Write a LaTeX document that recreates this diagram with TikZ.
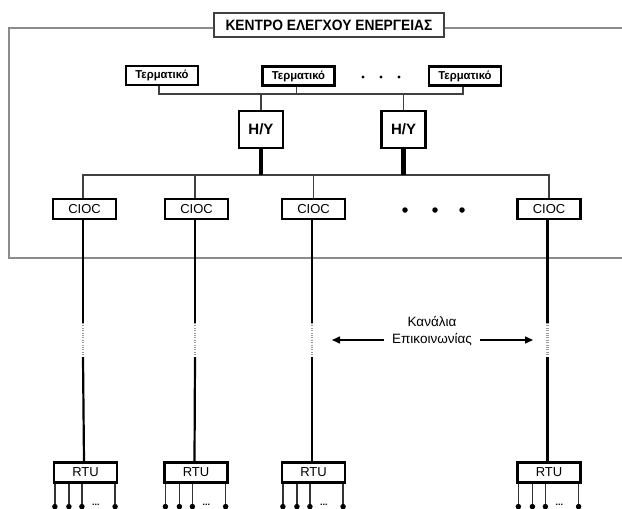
\documentclass[tikz,border=0pt]{standalone}
\usepackage{fontspec}
\setmainfont{Liberation Sans}
\usetikzlibrary{arrows.meta}
\begin{document}
\begin{tikzpicture}[x=1pt,y=-1pt,
  frame/.style={draw=black!45, line width=1.5pt},
  wire/.style={draw=black!75, line width=1.7pt},
  link/.style={draw=black, line width=2.2pt},
  thick link/.style={draw=black, line width=4.5pt},
  gap/.style={draw=black!40, line width=2.2pt, dash pattern=on 0.8pt off 1.6pt},
  unitbox/.style={draw=black, line width=2.2pt, fill=white, inner sep=0pt},
  termbox/.style={unitbox, minimum width=72pt, minimum height=19pt,
    font=\fontsize{11.5}{12}\selectfont\bfseries},
  pcbox/.style={unitbox, minimum width=44pt, minimum height=37pt,
    font=\fontsize{15}{17}\selectfont\bfseries},
  iobox/.style={unitbox, minimum width=63pt, minimum height=20pt,
    font=\fontsize{13}{15}\selectfont},
  bigdot/.style={circle, fill=black, inner sep=0pt, minimum size=5.5pt},
  smalldot/.style={circle, fill=black, inner sep=0pt, minimum size=3.2pt},
  pin/.style={circle, fill=black, inner sep=0pt, minimum size=5.5pt},
  lead/.style={draw=black!80, line width=1.6pt},
  flow/.style={draw=black, line width=1.5pt, -{Triangle[length=8pt,width=7pt]}}
]
\useasboundingbox[fill=white] (0,0) rectangle (622,509);

% control-centre enclosure
\node[draw=black!75, line width=1.1pt, fill=white, minimum width=230pt, minimum height=24pt,
  inner sep=0pt, font=\fontsize{15}{16}\selectfont\bfseries] (title) at (329,25)
  {\scalebox{0.92}[1]{ΚΕΝΤΡΟ ΕΛΕΓΧΟΥ ΕΝΕΡΓΕΙΑΣ}};
\coordinate (ftl) at (9,28);
\coordinate (fbl) at (9,258);
\coordinate (fbr) at (622,258);
\coordinate (ftr) at (622,28);
\draw[frame] (title.west |- ftl) -- (ftl) -- (fbl) -- (fbr);
\draw[frame] (title.east |- ftr) -- (ftr);

% terminals
\node[termbox] (t1) at (162,75.5) {\scalebox{0.98}[1]{Τερματικό}};
\node[termbox] (t2) at (298.5,76) {\scalebox{0.98}[1]{Τερματικό}};
\node[termbox] (t3) at (465,76) {\scalebox{0.98}[1]{Τερματικό}};
\foreach \x in {363,381,399} \node[smalldot] at (\x,77) {};

% computers
\node[pcbox] (h1) at (261,129.5) {H/Y};
\node[pcbox] (h2) at (403.5,129.5) {H/Y};

% terminal bus
\coordinate (tb1) at (159,94);
\coordinate (tb3) at (463,94);
\draw[wire] ([xshift=-3pt]t1.south) |- (tb3) -- ([xshift=-2pt]t3.south);
\draw[wire] ([xshift=-2pt]t2.south) -- ([xshift=-2pt]t2.south |- tb1);
\draw[wire] (h1.north) -- (h1.north |- tb1);
\draw[wire] (h2.north) -- (h2.north |- tb1);

% communication controllers
\node[iobox] (c1) at (84.5,209) {CIOC};
\node[iobox] (c2) at (196.5,209) {CIOC};
\node[iobox] (c3) at (313.5,209) {CIOC};
\node[iobox] (c4) at (549,209) {CIOC};
\foreach \x in {405,435,462} \node[bigdot] at (\x,210) {};

% controller bus
\coordinate (cb) at (0,175);
\draw[wire] ([xshift=-1.5pt]c1.north) |- (c4.north |- cb) -- (c4.north);
\draw[wire] ([xshift=-1.5pt]c2.north) -- ([xshift=-1.5pt]c2.north |- cb);
\draw[wire] (c3.north) -- (c3.north |- cb);
\draw[thick link] (h1.south) -- (h1.south |- cb);
\draw[thick link] (h2.south) -- (h2.south |- cb);

% remote terminal units
\node[iobox] (r1) at (85.5,472.5) {RTU};
\node[iobox] (r2) at (196,472.5) {RTU};
\node[iobox] (r3) at (313.5,472.5) {RTU};
\node[iobox] (r4) at (549,472.5) {RTU};

% communication channels with a break
\coordinate (gt) at (0,323);
\coordinate (gb) at (0,357);
\foreach \c/\r in {c1/r1,c2/r2,c3/r3,c4/r4}{
  \draw[link] ([xshift=-1.5pt]\c.south) -- ([xshift=-1.5pt]\c.south |- gt);
  \draw[gap] ([xshift=-1.5pt]\c.south |- gt) -- ([xshift=-1.5pt]\c.south |- gb);
  \draw[link] ([xshift=-1.5pt]\c.south |- gb) -- ([xshift=-1.5pt]\r.north);
}

% channel label
\node[font=\fontsize{13.5}{17}\selectfont, align=center] (chan) at (432,331.5)
  {Κανάλια\\Επικοινωνίας};
\coordinate (al) at (332,340);
\coordinate (ar) at (533,340);
\draw[flow] ([xshift=-5pt]chan.west |- al) -- (al);
\draw[flow] ([xshift=5pt]chan.east |- ar) -- (ar);

% field connections of each RTU
\foreach \r in {r1,r2,r3,r4}{
  \foreach \dx in {2,16,29}{
    \draw[lead] ([xshift=\dx pt]\r.south west) -- ++(0,23) node[pin] {};
  }
  \draw[lead] ([xshift=-3pt]\r.south east) -- ++(0,23) node[pin] {};
  \node[font=\fontsize{9}{9}\selectfont\bfseries, anchor=south]
    at ([xshift=43pt,yshift=-25pt]\r.south west) {...};
}
\end{tikzpicture}
\end{document}
